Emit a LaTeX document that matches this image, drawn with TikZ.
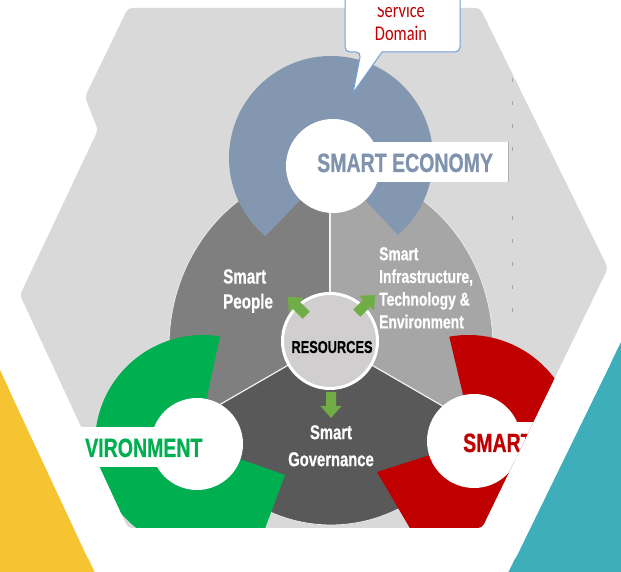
\documentclass[tikz,border=0pt]{standalone}
\usepackage{fontspec}
\usetikzlibrary{calc}
\newfontfamily\narrowsf[FakeStretch=0.74, FakeBold=0.6]{Liberation Sans}
\newfontfamily\calloutsf[FakeStretch=0.78]{Carlito}
\definecolor{hexgrey}{HTML}{D9D9D9}
\definecolor{peoplegrey}{HTML}{7F7F7F}
\definecolor{infragrey}{HTML}{A6A6A6}
\definecolor{govgrey}{HTML}{595959}
\definecolor{resgrey}{HTML}{D0CECE}
\definecolor{econblue}{HTML}{8497B0}
\definecolor{econtext}{HTML}{7F93AE}
\definecolor{envgreen}{HTML}{00B050}
\definecolor{smartred}{HTML}{C00000}
\definecolor{arrowgreen}{HTML}{70AD47}
\definecolor{sideyellow}{HTML}{F6C431}
\definecolor{sideteal}{HTML}{3EAFBA}
\definecolor{callblue}{HTML}{6F9FD8}
\tikzset{
  hub/.style={circle, fill=white, inner sep=0pt},
  ringlabel/.style={font=\narrowsf\bfseries\fontsize{26.4}{30}\selectfont, inner sep=0pt, anchor=base west},
  sectortext/.style={text=white, inner sep=0pt, align=left},
  calloutlabel/.style={font=\calloutsf\fontsize{21}{25}\selectfont, text=smartred, inner sep=0pt, anchor=base},
}

\begin{document}
\begin{tikzpicture}[x=1pt, y=1pt]
\useasboundingbox (0,0) rectangle (621,572);
\clip (0,0) rectangle (621,572);
\fill[white] (0,0) rectangle (621,572);

% neighbouring tiles
\fill[hexgrey] (0,532) -- (47,435) -- (0,337) -- cycle;
\fill[sideyellow] (0,202) -- (118,-50) -- (0,-50) -- cycle;
\fill[sideteal] (621,230) -- (484,-50) -- (621,-50) -- cycle;
\fill[white, rounded corners=27pt] (0,202) -- (97,-6) -- (506,-6) -- (621,230) -- (621,600) -- (0,600) -- cycle;

\begin{scope}
\clip[rounded corners=4pt] (128,564) -- (480,564) -- (608,304) -- (482,44) -- (128,44) -- (20,277) -- (98,442) -- (85,475) -- cycle;
\fill[hexgrey] (0,0) rectangle (621,572);
\draw[gray!70, line width=0.8pt, dash pattern=on 4pt off 19pt] (512,494) -- (512,420);
\draw[gray!70, line width=0.8pt, dash pattern=on 4pt off 19pt] (512,356) -- (512,258);

% three sectors
\coordinate (mid) at (330,231);
\begin{scope}
\clip (331,225) ellipse[x radius=162, y radius=178];
\fill[peoplegrey] (331,225) ellipse[x radius=162, y radius=178];
\fill[infragrey] (mid) -- ($(mid)+(90:340)$) -- ($(mid)+(30:340)$) -- ($(mid)+(-30:340)$) -- cycle;
\fill[govgrey] (mid) -- ($(mid)+(-30:340)$) -- ($(mid)+(-90:340)$) -- ($(mid)+(210:340)$) -- cycle;
\foreach \a in {90,210,330} \draw[white!90!gray, line width=1.2pt] (mid) -- ++(\a:220);
\end{scope}
\draw[white!85!gray, line width=0.8pt] (331,225) ellipse[x radius=162, y radius=178];

% rings
\fill[econblue] (333,406) -- ($(331,414)+(-49:102)$) arc[start angle=-49, end angle=230, radius=102] -- cycle;
\fill[envgreen] (197,128) -- ($(203,129)+(81:108)$) arc[start angle=81, end angle=250, radius=108] -- (260,30) -- (285,97) -- cycle;
\fill[smartred] (474,131) -- ($(468,129)+(100:108)$) arc[start angle=100, end angle=-70, radius=108] -- (418,30) -- (377,100) -- cycle;

\node[hub, minimum size=94pt] (econ) at (333,406) {};
\node[hub, minimum size=92pt] (envt) at (197,128) {};
\node[hub, minimum size=94pt] (smrt) at (474,131) {};

\fill[white] (333,390) rectangle (508,430);
\draw[gray!60, line width=0.8pt] (508,390) -- (508,430);
\fill[white] (474,110) rectangle (570,150);

\node[ringlabel, text=econtext] (econlabel) at (317,400) {SMART ECONOMY};
\node[ringlabel, text=smartred] (smrtlabel) at (463,120) {SMART};

% resources hub
\node[circle, fill=resgrey, draw=white, line width=3pt, minimum size=95pt, inner sep=0pt] (res) at (mid) {};
\node[font=\narrowsf\bfseries\fontsize{17.3}{20}\selectfont, inner sep=0pt, anchor=base] (reslabel) at (332,219) {RESOURCES};
\foreach \p/\a in {{(297,266)}/135, {(366,268)}/45, {(331,167)}/-90}
  \fill[arrowgreen, shift=\p, rotate=\a] (-13,-5) -- (1,-5) -- (1,-10.5) -- (13,0) -- (1,10.5) -- (1,5) -- (-13,5) -- cycle;

\node[sectortext, anchor=north west, font=\narrowsf\bfseries\fontsize{20.5}{25}\selectfont] (people) at (223,303) {Smart\\People};
\node[sectortext, anchor=north west, font=\narrowsf\bfseries\fontsize{18.7}{22.7}\selectfont] (infra) at (379,325) {Smart\\Infrastructure,\\Technology \&\\Environment};
\node[sectortext, align=center, anchor=north, font=\narrowsf\bfseries\fontsize{20}{27}\selectfont] (gov) at (331,147) {Smart\\Governance};
\end{scope}

% label left of the green ring
\fill[white] (77,105) rectangle (197,145);
\node[ringlabel, text=envgreen] (envlabel) at (85,115) {VIRONMENT};

% callout
\filldraw[draw=callblue, fill=white, line width=1pt] (345,600) [rounded corners=5pt] -- (345,520) -- (361,520) [sharp corners] -- (353,479) -- (382,520) [rounded corners=5pt] -- (460,520) [sharp corners] -- (460,600);
\begin{scope}
\clip (0,0) rectangle (621,564);
\node[calloutlabel] (service) at (401,554) {Service};
\end{scope}
\node[calloutlabel] (domain) at (401,531) {Domain};
\end{tikzpicture}
\end{document}
